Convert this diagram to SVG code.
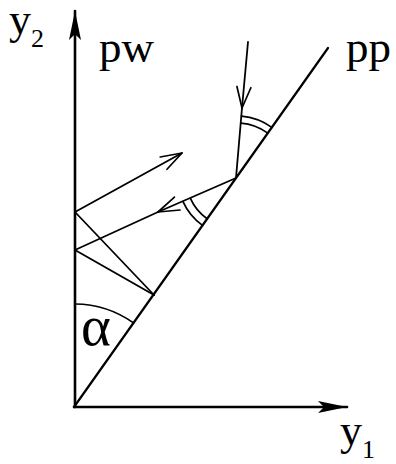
<svg xmlns="http://www.w3.org/2000/svg" width="396" height="464" viewBox="0 0 396 464">
<style>
.ln{fill:none;stroke:#000;stroke-linecap:round;stroke-linejoin:round}
.ax{stroke-width:2.6}
.pp{stroke-width:2.2}
.ray{stroke-width:1.8}
.arc{stroke-width:1.7}
.lbl{font-family:"Liberation Serif","Times New Roman",serif;fill:#000}
</style>
<defs>
<marker id="fill" markerUnits="userSpaceOnUse" viewBox="-30 -8 32 16" refX="0" refY="0" markerWidth="32" markerHeight="16" orient="auto">
<path d="M0,0 L-29,-6 L-23,0 L-29,6 Z" fill="#000"/>
</marker>
<marker id="open" markerUnits="userSpaceOnUse" viewBox="-24 -10 26 20" refX="0" refY="0" markerWidth="26" markerHeight="20" orient="auto">
<path d="M-21,-7 L0,0 L-21,7" fill="none" stroke="#000" stroke-width="1.7" stroke-linecap="round" stroke-linejoin="round"/>
</marker>
</defs>
<g id="axes">
<line class="ln ax" x1="75" y1="407" x2="75" y2="11" marker-end="url(#fill)"/>
<line class="ln ax" x1="74" y1="407" x2="347" y2="407" marker-end="url(#fill)"/>
</g>
<g id="mirror">
<line class="ln pp" x1="74" y1="407" x2="328" y2="48"/>
</g>
<g id="connectors">
<line class="ln ray" x1="248" y1="42" x2="242" y2="108" marker-end="url(#open)"/>
<line class="ln ray" x1="242" y1="108" x2="236" y2="178"/>
<line class="ln ray" x1="236" y1="178" x2="158" y2="212" marker-end="url(#open)"/>
<line class="ln ray" x1="158" y1="212" x2="75" y2="250"/>
<line class="ln ray" x1="75" y1="250" x2="154" y2="295"/>
<line class="ln ray" x1="154" y1="295" x2="75" y2="212"/>
<line class="ln ray" x1="75" y1="212" x2="182" y2="153" marker-end="url(#open)"/>
</g>
<g id="angles">
<path class="ln arc" d="M240.8,123.2 A55,55 0 0 1 267.8,133.1"/>
<path class="ln arc" d="M241.5,116.2 A62,62 0 0 1 271.8,127.4"/>
<path class="ln arc" d="M190.4,198.4 A50,50 0 0 0 207.1,218.8"/>
<path class="ln arc" d="M183,201.7 A58,58 0 0 0 202.5,225.4"/>
<path class="ln arc" d="M75,304 A103,103 0 0 1 133.5,322.9"/>
</g>
<g id="labels">
<text class="lbl" x="9" y="34" font-size="44">y</text>
<text class="lbl" x="31" y="47" font-size="26">2</text>
<text class="lbl" x="99" y="62" font-size="45">pw</text>
<text class="lbl" x="346" y="62" font-size="45">pp</text>
<text class="lbl" x="81" y="345" font-size="57">α</text>
<text class="lbl" x="340" y="445" font-size="44">y</text>
<text class="lbl" x="362" y="458" font-size="26">1</text>
</g>
</svg>
